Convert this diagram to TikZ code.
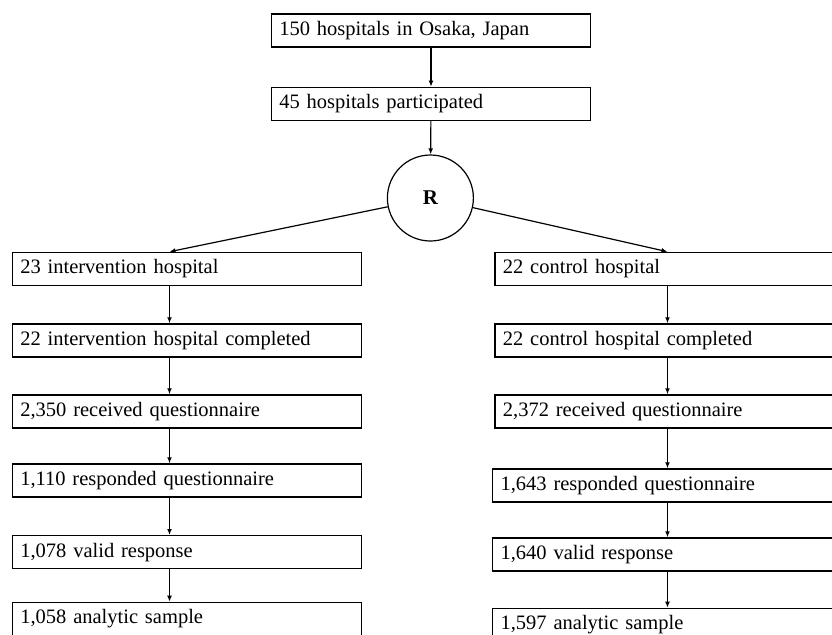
\documentclass[tikz,border=0pt]{standalone}
\usepackage{fontspec}
\setmainfont{Liberation Serif}
\usetikzlibrary{arrows.meta}
\begin{document}
\begin{tikzpicture}
	[x=0.5pt,y=-0.5pt,line width=0.6pt,
	every node/.style={font=\fontsize{10.25}{12}\selectfont},
	box/.style={draw,rectangle,anchor=north west,minimum height=16.5pt,inner xsep=4pt,inner ysep=0pt,align=left},
	topbox/.style={box,text width=151.7pt},
	leftbox/.style={box,text width=166.5pt},
	rightbox/.style={box,text width=166pt},
	randcircle/.style={draw,circle,minimum size=43pt,inner sep=0pt,font=\fontsize{10.5}{12}\selectfont\bfseries},
	flow/.style={-{Latex[length=3pt,width=2.4pt]}}]
	\useasboundingbox (0,0) rectangle (832,634);
	\clip (0,0) rectangle (832,634);
	\coordinate (lcol) at (169.5,0);
	\coordinate (rcol) at (667.5,0);
	\node[topbox] (osaka) at (270.7,13.3) {150 hospitals in Osaka, Japan};
	\node[topbox] (joined) at (270.7,86.7) {45 hospitals participated};
	\node[randcircle] (R) at (430.4,198) {R};
	\node[leftbox] (int1) at (11.7,251.7) {23 intervention hospital};
	\node[leftbox] (int2) at (11.7,323.3) {22 intervention hospital completed};
	\node[leftbox] (int3) at (11.7,394.3) {2,350 received questionnaire};
	\node[leftbox] (int4) at (11.7,463.3) {1,110 responded questionnaire};
	\node[leftbox] (int5) at (11.7,535) {1,078 valid response};
	\node[leftbox] (int6) at (11.7,601.7) {1,058 analytic sample};
	\node[rightbox] (con1) at (494.3,251.7) {22 control hospital};
	\node[rightbox] (con2) at (494.3,323.3) {22 control hospital completed};
	\node[rightbox] (con3) at (494.3,394.3) {2,372 received questionnaire};
	\node[rightbox] (con4) at (492,468.3) {1,643 responded questionnaire};
	\node[rightbox] (con5) at (492,537.3) {1,640 valid response};
	\node[rightbox] (con6) at (492,607.7) {1,597 analytic sample};
	\draw[flow] (osaka) -- (joined);
	\draw[flow] (joined) -- (R);
	\draw[flow] (R) -- (int1.north -| lcol);
	\draw[flow] (R) -- (con1.north -| rcol);
	\draw[flow] (int1.south -| lcol) -- (int2.north -| lcol);
	\draw[flow] (int2.south -| lcol) -- (int3.north -| lcol);
	\draw[flow] (int3.south -| lcol) -- (int4.north -| lcol);
	\draw[flow] (int4.south -| lcol) -- (int5.north -| lcol);
	\draw[flow] (int5.south -| lcol) -- (int6.north -| lcol);
	\draw[flow] (con1.south -| rcol) -- (con2.north -| rcol);
	\draw[flow] (con2.south -| rcol) -- (con3.north -| rcol);
	\draw[flow] (con3.south -| rcol) -- (con4.north -| rcol);
	\draw[flow] (con4.south -| rcol) -- (con5.north -| rcol);
	\draw[flow] (con5.south -| rcol) -- (con6.north -| rcol);
\end{tikzpicture}
\end{document}
